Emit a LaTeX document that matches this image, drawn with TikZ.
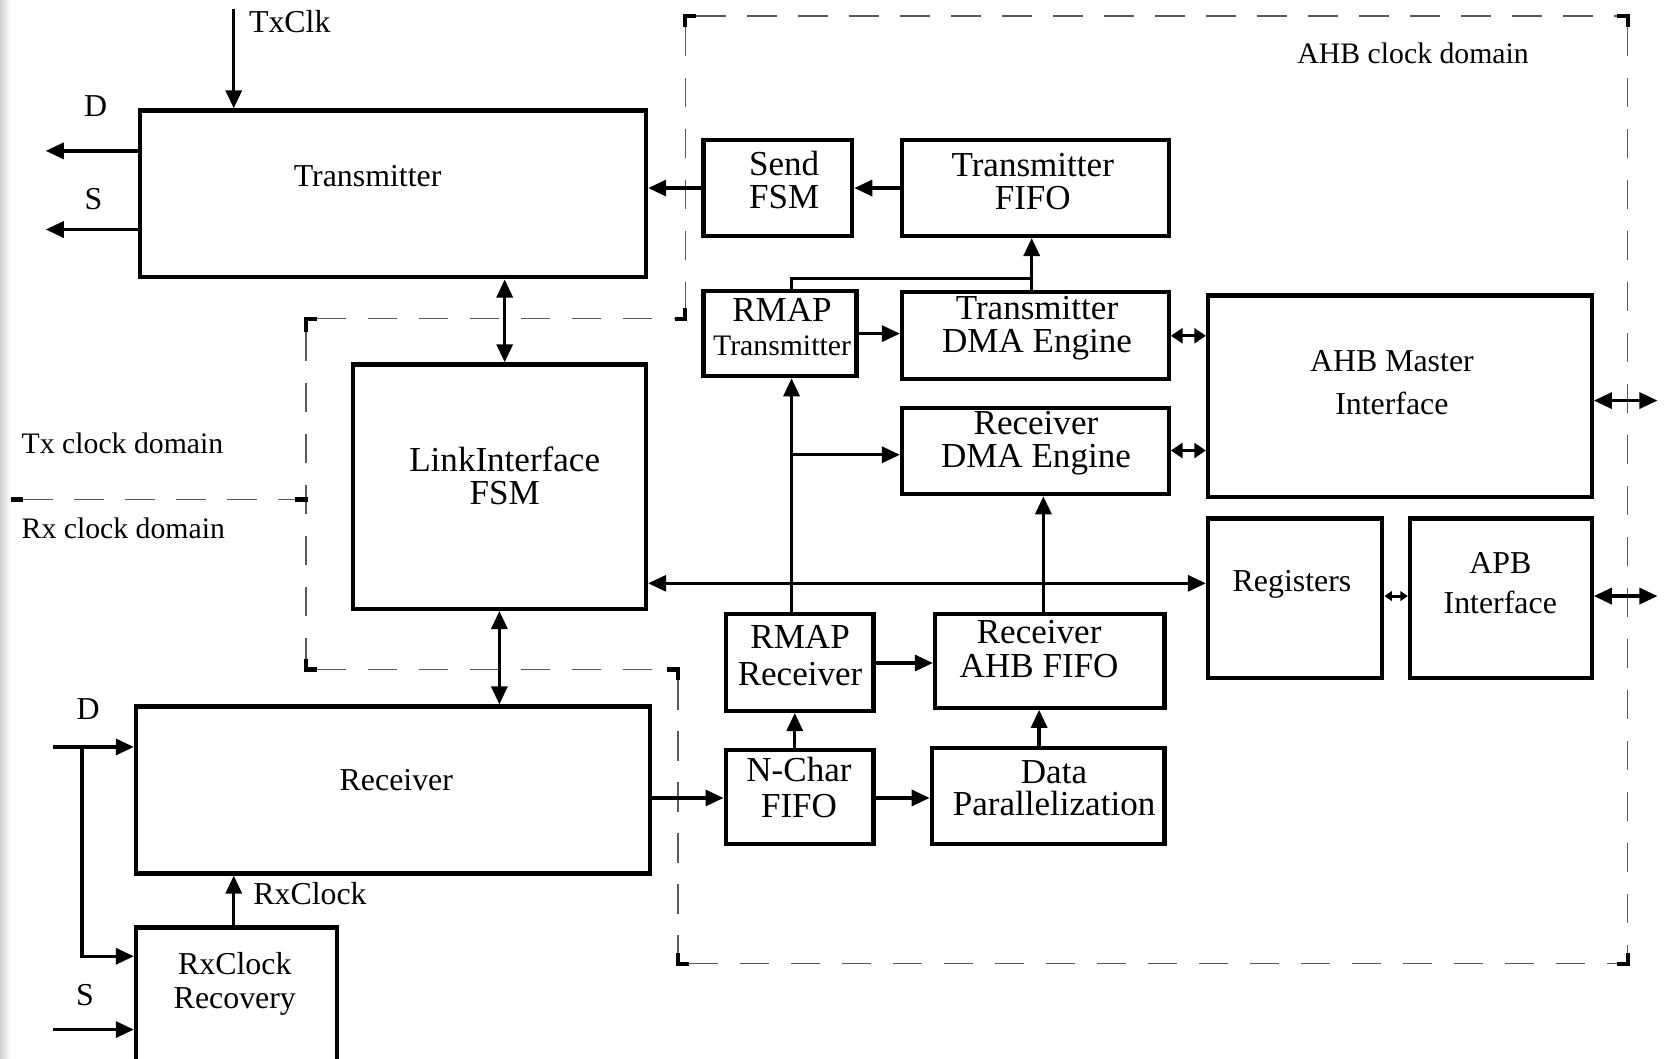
\documentclass[tikz,border=0pt]{standalone}
\usepackage{fontspec}
\setmainfont{Liberation Serif}
\usetikzlibrary{arrows.meta,fit}
\tikzset{
  blk/.style={draw, line width=2pt, inner sep=0pt},
  lbl/.style={font=\fontsize{15}{20}\selectfont, align=center, inner sep=0pt},
  lblc/.style={font=\fontsize{16.5}{15.5}\selectfont, align=center, inner sep=0pt},
  arr/.style={line width=1.6pt, -{Triangle[length=8.5pt,width=7.5pt]}},
  darr/.style={line width=1.6pt, {Triangle[length=8.5pt,width=7.5pt]}-{Triangle[length=8.5pt,width=7.5pt]}},
  sarr/.style={line width=1.6pt, {Triangle[length=5.5pt,width=7pt]}-{Triangle[length=5.5pt,width=7pt]}},
  tarr/.style={line width=1.4pt, {Triangle[length=3.5pt,width=4.5pt]}-{Triangle[length=3.5pt,width=4.5pt]}},
  dom/.style={draw=black!65, line width=0.6pt, dash pattern=on 14pt off 10pt},
  crn/.style={line width=2pt, line cap=butt},
}
\begin{document}
\begin{tikzpicture}[x=0.5pt,y=-0.5pt]
\useasboundingbox (0,0) rectangle (1568,996);
\shade[left color=black!18, right color=white] (0,0) rectangle (10,996);

% ---- boxes ----
\node[blk, fit={(132,104) (608,261)}] (tx) {};
\node[blk, fit={(332,343) (608,573)}] (ltx) {};
\node[blk, fit={(128,665) (612,822)}] (rx) {};
\node[blk, fit={(128,873) (317,1010)}] (rcr) {};
\node[blk, fit={(662,132) (802,222)}] (sfsm) {};
\node[blk, fit={(849,132) (1100,222)}] (tfifo) {};
\node[blk, fit={(662,274) (806,354)}] (rmtx) {};
\node[blk, fit={(849,275) (1100,357)}] (tdma) {};
\node[blk, fit={(849,384) (1100,465)}] (rdma) {};
\node[blk, fit={(1137,278) (1498,468)}] (ahb) {};
\node[blk, fit={(1137,488) (1301,638)}] (reg) {};
\node[blk, fit={(1327,488) (1498,638)}] (apb) {};
\node[blk, fit={(683,578) (822,669)}] (rmrx) {};
\node[blk, fit={(880,578) (1096,666)}] (rafifo) {};
\node[blk, fit={(683,706) (822,794)}] (nchar) {};
\node[blk, fit={(877,704) (1096,794)}] (dpar) {};

% ---- box texts ----
\node[lbl] (ttx) at (346,166) {Transmitter};
\node[lblc] (tltx) at (475,448) {LinkInterface\\FSM};
\node[lbl] (trx) at (373,734) {Receiver};
\node[lbl, font=\fontsize{15}{16}\selectfont] (trcr) at (221,926) {RxClock\\Recovery};
\node[lblc] (tsfsm) at (738,169) {Send\\FSM};
\node[lblc] (ttfifo) at (972,171) {Transmitter\\FIFO};
\node[lblc, font=\fontsize{16.5}{16}\selectfont] (trmtx) at (736,308) {RMAP\\{\fontsize{14}{16}\selectfont Transmitter}};
\node[lblc] (ttdma) at (976,309) {Transmitter\\DMA Engine};
\node[lblc] (trdma) at (975,417) {Receiver\\DMA Engine};
\node[lbl] (tahb) at (1310,360) {AHB Master\\Interface};
\node[lbl] (treg) at (1216,550) {Registers};
\node[lbl, font=\fontsize{15}{19}\selectfont] (tapb) at (1412,549) {APB\\Interface};
\node[lblc, font=\fontsize{16.5}{17.5}\selectfont] (trmrx) at (753,617) {RMAP\\Receiver};
\node[lblc, font=\fontsize{16.5}{16}\selectfont] (trafifo) at (978,611) {Receiver\\AHB FIFO};
\node[lblc, font=\fontsize{16.5}{17}\selectfont] (tnchar) at (752,741) {N-Char\\FIFO};
\node[lblc, font=\fontsize{16.5}{15}\selectfont] (tdpar) at (992,742) {Data\\Parallelization};

% ---- free labels ----
\node[lbl, anchor=west] (ltxclk) at (234,20) {TxClk};
\node[lbl] (ld1) at (90,100) {D};
\node[lbl] (ls1) at (88,187) {S};
\node[lbl, font=\fontsize{14}{16}\selectfont, anchor=west] (ltxd) at (20,417) {Tx clock domain};
\node[lbl, font=\fontsize{14}{16}\selectfont, anchor=west] (lrxd) at (20,497) {Rx clock domain};
\node[lbl, font=\fontsize{14}{16}\selectfont] (lahbd) at (1330,50) {AHB clock domain};
\node[lbl] (ld2) at (83,667) {D};
\node[lbl] (ls2) at (80,937) {S};
\node[lbl, anchor=west] (lrxclk) at (238,841) {RxClock};

% ---- domain borders ----
\draw[dom] (655,15) -- (1522,15);
\draw[dom] (1532,25) -- (1532,897);
\draw[dom] (648,907) -- (1522,907);
\draw[dom] (645,25) -- (645,290);
\draw[dom] (638,640) -- (638,897);
\draw[dom] (298,300) -- (635,300);
\draw[dom] (288,312) -- (288,620);
\draw[dom] (298,630) -- (628,630);
\draw[dom] (22,470) -- (278,470);
\draw[crn] (645,25) -- (645,15) -- (655,15);
\draw[crn] (1522,15) -- (1532,15) -- (1532,25);
\draw[crn] (1532,897) -- (1532,907) -- (1522,907);
\draw[crn] (638,897) -- (638,907) -- (648,907);
\draw[crn] (288,312) -- (288,300) -- (298,300);
\draw[crn] (635,300) -- (645,300) -- (645,290);
\draw[crn] (288,620) -- (288,630) -- (298,630);
\draw[crn] (628,630) -- (638,630) -- (638,640);
\draw[crn] (10,470) -- (22,470);
\draw[crn] (278,470) -- (290,470);

% ---- connectors ----
\coordinate (txclk) at (220,8);
\draw[arr] (txclk) -- (tx.north -| txclk);
\coordinate (dout) at (43,142);
\draw[arr] (tx.west |- dout) -- (dout);
\coordinate (sout) at (43,216);
\draw[arr] (tx.west |- sout) -- (sout);
\draw[arr] (sfsm.west) -- (tx.east |- sfsm.west);
\draw[arr] (tfifo.west) -- (sfsm.east);
\draw[arr] (rmtx.east) -- (tdma.west |- rmtx.east);
\coordinate (j1) at (971,262);
\draw[line width=1.6pt] (rmtx.north -| 745,0) |- (j1);
\draw[arr] (tdma.north -| j1) -- (tfifo.south -| j1);
\draw[arr] (rmrx.north -| 745,0) -- (rmtx.south -| 745,0);
\coordinate (j2) at (745,428);
\draw[arr] (j2) -- (rdma.west |- j2);
\draw[arr] (rafifo.north -| 982,0) -- (rdma.south -| 982,0);
\draw[darr] (ltx.east |- 0,549) -- (reg.west |- 0,549);
\draw[sarr] (tdma.east |- 0,316) -- (ahb.west |- 0,316);
\draw[sarr] (rdma.east |- 0,424) -- (ahb.west |- 0,424);
\coordinate (ahbout) at (1560,377);
\draw[darr] (ahb.east |- ahbout) -- (ahbout);
\draw[tarr] (reg.east |- 0,561) -- (apb.west |- 0,561);
\coordinate (apbout) at (1560,561);
\draw[darr] (apb.east |- apbout) -- (apbout);
\draw[darr] (tx.south -| 475,0) -- (ltx.north -| 475,0);
\draw[darr] (ltx.south -| 470,0) -- (rx.north -| 470,0);
\draw[arr] (rx.east |- 0,751) -- (nchar.west |- 0,751);
\draw[arr] (nchar.north -| 748,0) -- (rmrx.south -| 748,0);
\draw[arr] (nchar.east |- 0,751) -- (dpar.west |- 0,751);
\draw[arr] (dpar.north -| 978,0) -- (rafifo.south -| 978,0);
\draw[arr] (rmrx.east |- 0,624) -- (rafifo.west |- 0,624);
\coordinate (din) at (50,703);
\draw[arr] (din) -- (rx.west |- din);
\coordinate (dsplit) at (77,703);
\draw[arr] (dsplit) |- (rcr.west |- 0,900);
\coordinate (sin) at (50,969);
\draw[arr] (sin) -- (rcr.west |- sin);
\draw[arr] (rcr.north -| 220,0) -- (rx.south -| 220,0);
\end{tikzpicture}
\end{document}
